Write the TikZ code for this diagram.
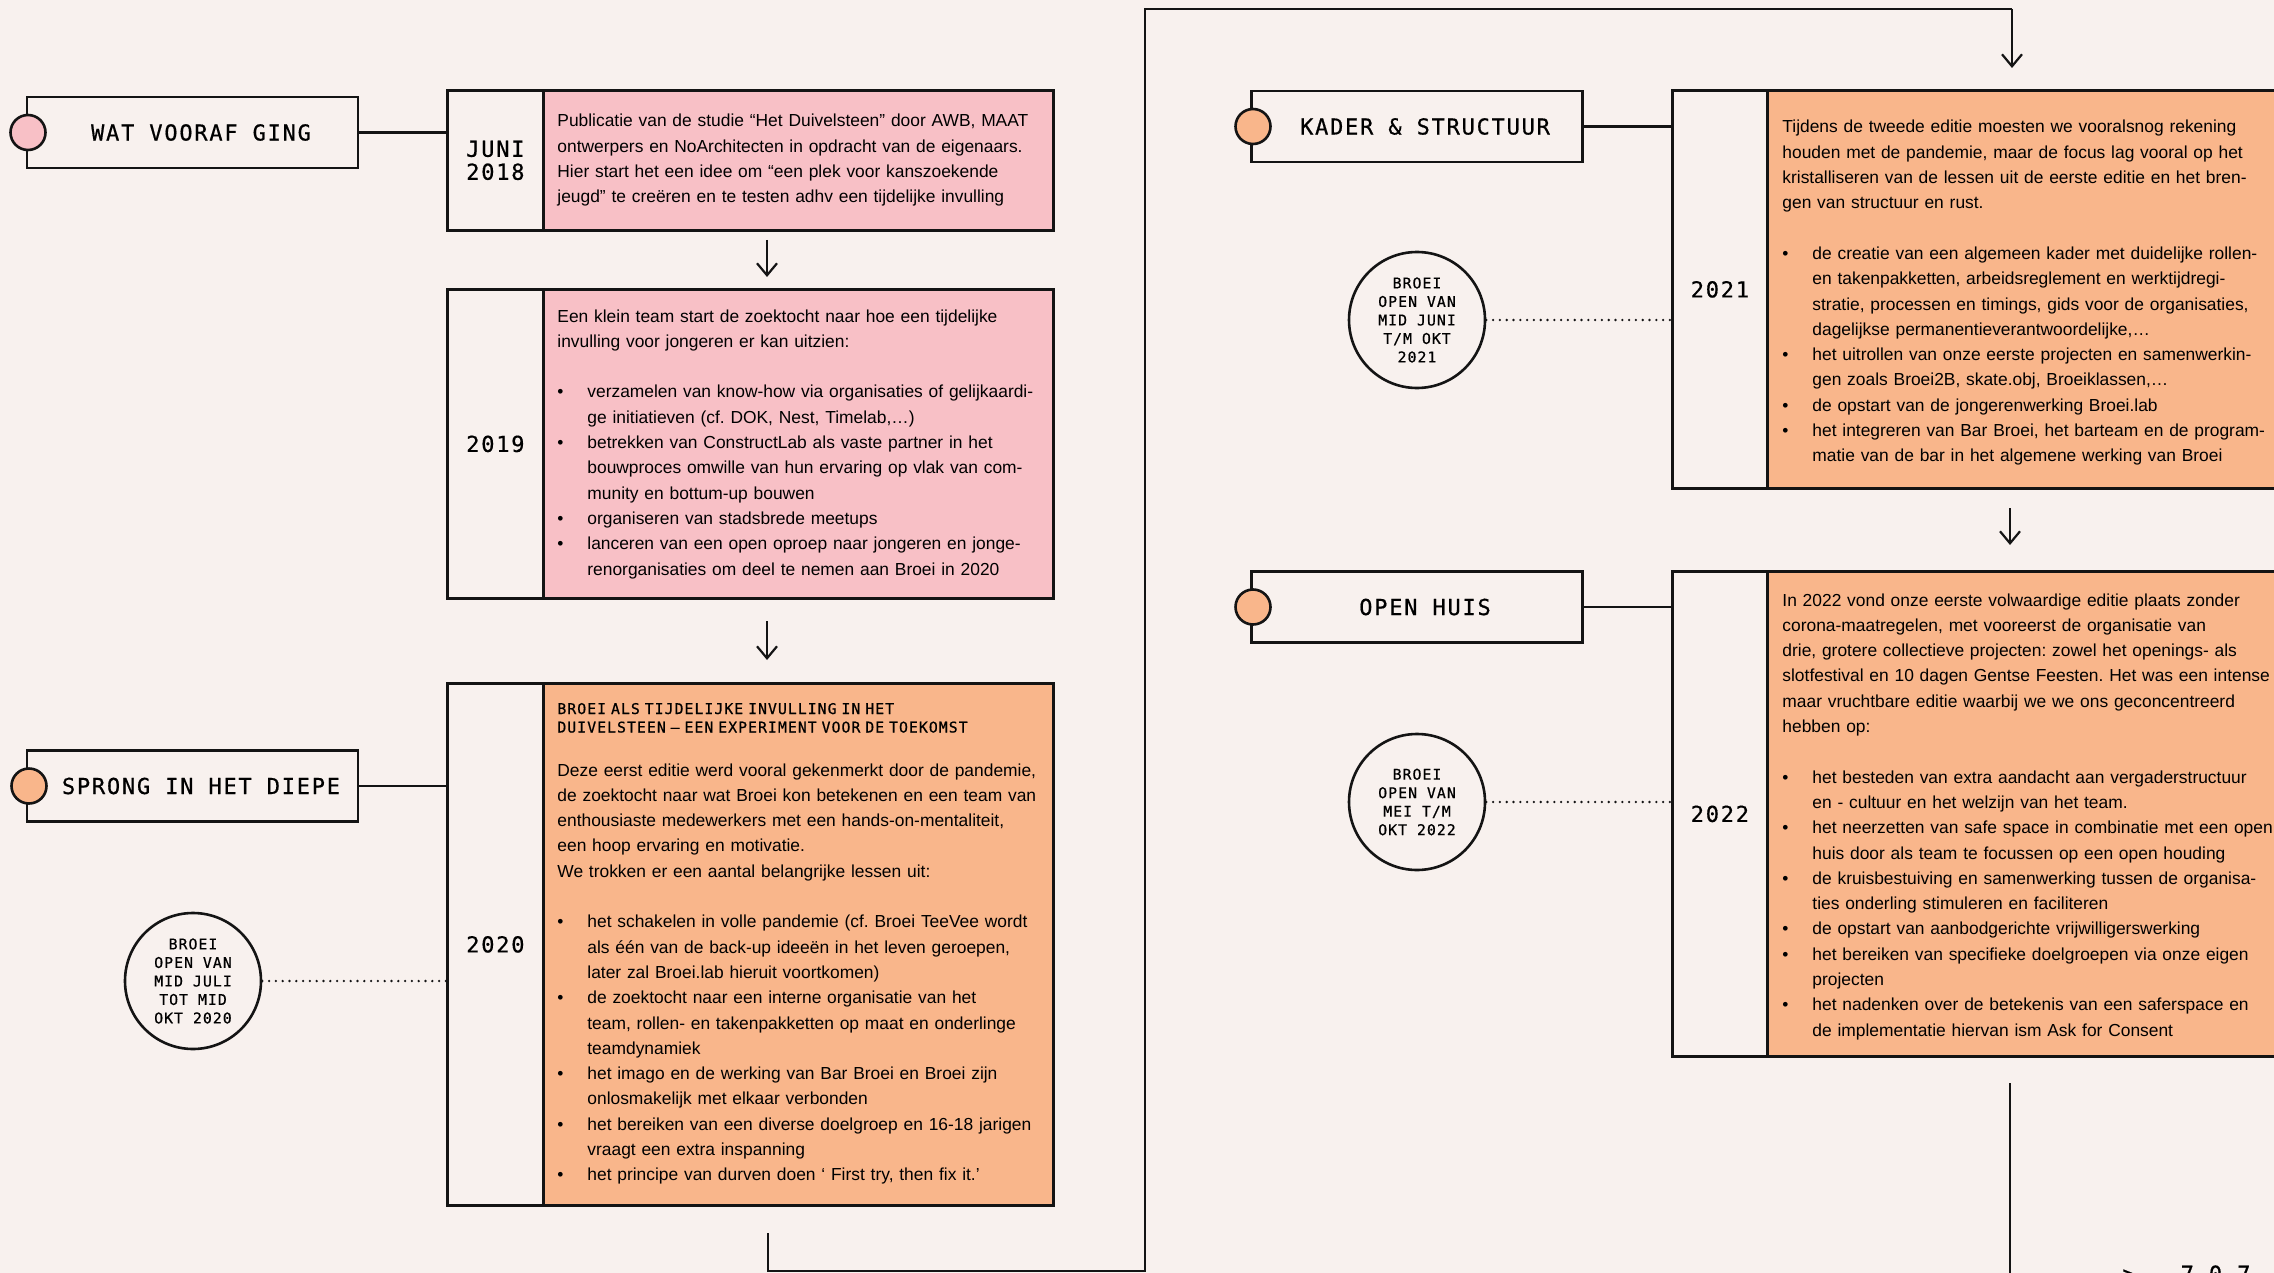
\documentclass[tikz,border=0pt]{standalone}
\usepackage{fontspec}
\setmainfont{Liberation Sans}
\newfontfamily\monofont{DejaVu Sans Mono}[LetterSpace=8,FakeBold=0.6]
\newfontfamily\monofontS{DejaVu Sans Mono}[LetterSpace=7,FakeBold=0.6]
\usetikzlibrary{arrows.meta}
\definecolor{bgc}{HTML}{F8F1EE}
\definecolor{pinkc}{HTML}{F8C0C6}
\definecolor{orangec}{HTML}{F9B68B}
\definecolor{inkc}{HTML}{141414}
\newcommand\bodyfont{\fontsize{8.7}{12.65}\selectfont\frenchspacing}
\newcommand\titlefont{\monofont\fontsize{11}{11.5}\selectfont}
\newcommand\smallmono{\monofontS\fontsize{7.4}{9.25}\selectfont}
\newcommand\bl{\makebox[15pt][l]{\textbullet}}
\newcommand\ind{\hspace*{15pt}}
\tikzset{
  titlebox/.style={draw=inkc, line width=1.3pt, fill=bgc, minimum width=165.5pt, minimum height=35.5pt, inner sep=0},
  tdot/.style={circle, draw=inkc, line width=1.3pt, minimum size=17.5pt, inner sep=0},
  ttext/.style={font=\titlefont, inner sep=0},
  yearbox/.style={draw=inkc, line width=1.4pt, fill=bgc, anchor=north west, minimum width=48pt, inner sep=0, font=\titlefont, align=center},
  cbox/.style={draw=inkc, line width=1.4pt, anchor=north west, minimum width=255pt, inner sep=0},
  btext/.style={anchor=base west, inner sep=0, text width=300pt, align=left, font=\bodyfont},
  subtext/.style={anchor=base west, inner sep=0, text width=300pt, align=left, font=\smallmono},
  bigcirc/.style={circle, draw=inkc, line width=1.3pt, fill=bgc, minimum size=68pt, inner sep=0, font=\smallmono, align=center},
  conn/.style={draw=inkc, line width=1.3pt},
  dotl/.style={draw=inkc, line width=1.3pt, line cap=round, dash pattern=on 0pt off 3.4pt},
  arr/.style={draw=inkc, line width=1.1pt, -{Straight Barb[length=6pt,width=10pt]}},
  framel/.style={draw=inkc, line width=1.1pt},
}
\begin{document}
\begin{tikzpicture}[x=0.5pt,y=-0.5pt]
\useasboundingbox (0,0) rectangle (2274,1273);
\clip (0,0) rectangle (2274,1273);
\fill[bgc] (0,0) rectangle (2274,1273);

% ---------- frame path ----------
\coordinate (f0) at (768,1233);
\coordinate (f1) at (768,1271);
\coordinate (f2) at (1145,1271);
\coordinate (f3) at (1145,9);
\coordinate (f4) at (2012,9);
\coordinate (f5) at (2012,68);
\draw[framel] (f0) -- (f1) -- (f2) -- (f3) -- (f4);
\draw[arr] (f4) -- (f5);

% ---------- left column ----------
\node[titlebox] (t1) at (192.5,132.5) {};
\node[tdot, fill=pinkc] (d1) at (28,132.5) {};
\node[ttext] (t1l) at (201,132.5) {WAT VOORAF GING};

\node[yearbox, minimum height=70pt] (y18) at (446,89) {JUNI\\2018};
\node[cbox, fill=pinkc, minimum height=70pt] (c18) at (542,89) {};
\node[btext] (x18) at (557,127) {Publicatie van de studie “Het Duivelsteen” door AWB, MAAT\\
ontwerpers en NoArchitecten in opdracht van de eigenaars.\\
Hier start het een idee om “een plek voor kanszoekende\\
jeugd” te creëren en te testen adhv een tijdelijke invulling};
\draw[conn] (t1.east) -- (t1.east -| y18.west);

\coordinate (a1s) at (767,240);
\coordinate (a1e) at (767,277);
\draw[arr] (a1s) -- (a1e);

\node[yearbox, minimum height=154.5pt] (y19) at (446,288) {2019};
\node[cbox, fill=pinkc, minimum height=154.5pt] (c19) at (542,288) {};
\node[btext] (x19) at (557,322) {Een klein team start de zoektocht naar hoe een tijdelijke\\
invulling voor jongeren er kan uitzien:\\
~\\
\bl verzamelen van know-how via organisaties of gelijkaardi-\\
\ind ge initiatieven (cf. DOK, Nest, Timelab,…)\\
\bl betrekken van ConstructLab als vaste partner in het\\
\ind bouwproces omwille van hun ervaring op vlak van com-\\
\ind munity en bottum-up bouwen\\
\bl organiseren van stadsbrede meetups\\
\bl lanceren van een open oproep naar jongeren en jonge-\\
\ind renorganisaties om deel te nemen aan Broei in 2020};

\coordinate (a2s) at (767,621);
\coordinate (a2e) at (767,660);
\draw[arr] (a2s) -- (a2e);

\node[yearbox, minimum height=261pt] (y20) at (446,682) {2020};
\node[cbox, fill=orangec, minimum height=261pt] (c20) at (542,682) {};
\node[subtext] (s20) at (557,714) {BROEI ALS TIJDELIJKE INVULLING IN HET\\
DUIVELSTEEN – EEN EXPERIMENT VOOR DE TOEKOMST};
\node[btext] (x20) at (557,776) {Deze eerst editie werd vooral gekenmerkt door de pandemie,\\
de zoektocht naar wat Broei kon betekenen en een team van\\
enthousiaste medewerkers met een hands-on-mentaliteit,\\
een hoop ervaring en motivatie.\\
We trokken er een aantal belangrijke lessen uit:\\
~\\
\bl het schakelen in volle pandemie (cf. Broei TeeVee wordt\\
\ind als één van de back-up ideeën in het leven geroepen,\\
\ind later zal Broei.lab hieruit voortkomen)\\
\bl de zoektocht naar een interne organisatie van het\\
\ind team, rollen- en takenpakketten op maat en onderlinge\\
\ind teamdynamiek\\
\bl het imago en de werking van Bar Broei en Broei zijn\\
\ind onlosmakelijk met elkaar verbonden\\
\bl het bereiken van een diverse doelgroep en 16-18 jarigen\\
\ind vraagt een extra inspanning\\
\bl het principe van durven doen ‘ First try, then fix it.’};

\node[titlebox] (t2) at (192.5,786) {};
\node[tdot, fill=orangec] (d2) at (29,786) {};
\node[ttext] (t2l) at (201,786) {SPRONG IN HET DIEPE};
\draw[conn] (t2.east) -- (t2.east -| y20.west);

\node[bigcirc] (k20) at (193,981) {BROEI\\OPEN VAN\\MID JULI\\TOT MID\\OKT 2020};
\draw[dotl] (k20.east) -- (k20.east -| y20.west);

% ---------- right column ----------
\node[titlebox] (t3) at (1417,126.5) {};
\node[tdot, fill=orangec] (d3) at (1253,126.5) {};
\node[ttext] (t3l) at (1425,126.5) {KADER \& STRUCTUUR};

\node[yearbox, minimum height=199pt, minimum width=47.5pt] (y21) at (1671,89) {2021};
\node[cbox, fill=orangec, minimum height=199pt, minimum width=270pt] (c21) at (1766,89) {};
\node[btext] (x21) at (1782,133) {Tijdens de tweede editie moesten we vooralsnog rekening\\
houden met de pandemie, maar de focus lag vooral op het\\
kristalliseren van de lessen uit de eerste editie en het bren-\\
gen van structuur en rust.\\
~\\
\bl de creatie van een algemeen kader met duidelijke rollen-\\
\ind en takenpakketten, arbeidsreglement en werktijdregi-\\
\ind stratie, processen en timings, gids voor de organisaties,\\
\ind dagelijkse permanentieverantwoordelijke,…\\
\bl het uitrollen van onze eerste projecten en samenwerkin-\\
\ind gen zoals Broei2B, skate.obj, Broeiklassen,…\\
\bl de opstart van de jongerenwerking Broei.lab\\
\bl het integreren van Bar Broei, het barteam en de program-\\
\ind matie van de bar in het algemene werking van Broei};
\draw[conn] (t3.east) -- (t3.east -| y21.west);

\node[bigcirc] (k21) at (1417,320) {BROEI\\OPEN VAN\\MID JUNI\\T/M OKT\\2021};
\draw[dotl] (k21.east) -- (k21.east -| y21.west);

\coordinate (a3s) at (2010,508);
\coordinate (a3e) at (2010,545);
\draw[arr] (a3s) -- (a3e);

\node[titlebox] (t4) at (1417,607) {};
\node[tdot, fill=orangec] (d4) at (1253,607) {};
\node[ttext] (t4l) at (1425,607) {OPEN HUIS};

\node[yearbox, minimum height=242.5pt, minimum width=47.5pt] (y22) at (1671,570) {2022};
\node[cbox, fill=orangec, minimum height=242.5pt, minimum width=270pt] (c22) at (1766,570) {};
\node[btext] (x22) at (1782,606) {In 2022 vond onze eerste volwaardige editie plaats zonder\\
corona-maatregelen, met vooreerst de organisatie van\\
drie, grotere collectieve projecten: zowel het openings- als\\
slotfestival en 10 dagen Gentse Feesten. Het was een intense\\
maar vruchtbare editie waarbij we we ons geconcentreerd\\
hebben op:\\
~\\
\bl het besteden van extra aandacht aan vergaderstructuur\\
\ind en - cultuur en het welzijn van het team.\\
\bl het neerzetten van safe space in combinatie met een open\\
\ind huis door als team te focussen op een open houding\\
\bl de kruisbestuiving en samenwerking tussen de organisa-\\
\ind ties onderling stimuleren en faciliteren\\
\bl de opstart van aanbodgerichte vrijwilligerswerking\\
\bl het bereiken van specifieke doelgroepen via onze eigen\\
\ind projecten\\
\bl het nadenken over de betekenis van een saferspace en\\
\ind de implementatie hiervan ism Ask for Consent};
\draw[conn] (t4.east) -- (t4.east -| y22.west);

\node[bigcirc] (k22) at (1417,802) {BROEI\\OPEN VAN\\MEI T/M\\OKT 2022};
\draw[dotl] (k22.east) -- (k22.east -| y22.west);

\coordinate (b1) at (2010,1083);
\coordinate (b2) at (2010,1290);
\draw[framel] (b1) -- (b2);

\node[ttext, anchor=north west] (nx) at (2122,1265) {\textgreater\ \ \ 7 0 7};
\end{tikzpicture}
\end{document}
